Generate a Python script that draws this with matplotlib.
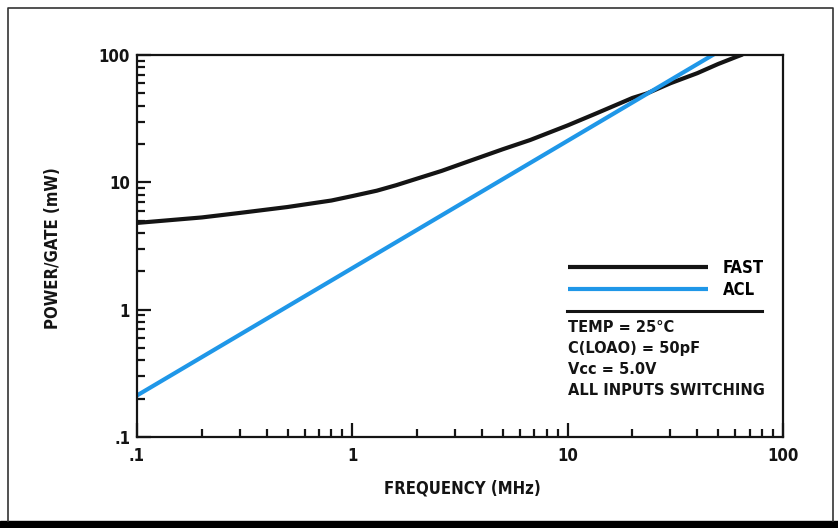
import matplotlib
matplotlib.use('Agg')
import matplotlib.pyplot as plt
from matplotlib.ticker import FixedLocator, FixedFormatter, NullFormatter
from matplotlib.patches import Rectangle
from matplotlib.lines import Line2D

plt.rcParams['font.family'] = ['DejaVu Sans']
plt.rcParams['font.stretch'] = 'condensed'
plt.rcParams['font.weight'] = 'bold'

# Data
fast_freq = [0.1, 0.2, 0.3, 0.5, 0.8, 1, 1.3, 1.6, 2, 2.6, 3.3, 5, 6.7, 10, 13.7, 20, 23.4, 30, 40, 50, 61, 65]
fast_power = [4.8, 5.3, 5.75, 6.4, 7.2, 7.8, 8.6, 9.5, 10.7, 12.3, 14.2, 18.2, 21.5, 28, 35, 46, 50, 60, 72, 85, 97, 101]
acl_freq = [0.1, 1, 10, 100]
acl_power = [0.212, 2.12, 21.2, 212]

major_ticks = [0.1, 1, 10, 100]
major_labels = ['.1', '1', '10', '100']
minor_ticks = [m * d for d in [0.1, 1, 10] for m in range(2, 10)]

notes = ['TEMP = 25°C', 'C(LOAO) = 50pF', 'Vcc = 5.0V', 'ALL INPUTS SWITCHING']

W, H = 838, 528
FS = 12
BLACK = '#141414'
BLUE = '#1f97e8'

fig = plt.figure(figsize=(W / 100, H / 100), dpi=100)
ax = fig.add_axes([137 / W, 1 - 437 / H, (783 - 137) / W, (437 - 55) / H])

ax.plot(fast_freq, fast_power, color=BLACK, lw=3.0, solid_capstyle='butt', label='FAST')
ax.plot(acl_freq, acl_power, color=BLUE, lw=3.0, solid_capstyle='butt', label='ACL')

ax.set_xscale('log')
ax.set_yscale('log')
ax.set_xlim(0.1, 100)
ax.set_ylim(0.1, 100)

for axis in (ax.xaxis, ax.yaxis):
    axis.set_major_locator(FixedLocator(major_ticks))
    axis.set_major_formatter(FixedFormatter(major_labels))
    axis.set_minor_locator(FixedLocator(minor_ticks))
    axis.set_minor_formatter(NullFormatter())

ax.tick_params(which='both', direction='in', width=1.6, colors=BLACK, labelsize=FS)
ax.tick_params(which='major', length=10)
ax.tick_params(which='minor', length=5.5)
ax.tick_params(axis='x', which='major', pad=7)
ax.tick_params(axis='y', which='major', pad=5)
for s in ax.spines.values():
    s.set_linewidth(1.6)
    s.set_color(BLACK)

# legend
leg = ax.legend(loc='upper left', bbox_to_anchor=((568 - 137) / 646, (437 - 259) / 382),
                frameon=False, fontsize=FS, handlelength=8.4, handletextpad=0.9,
                labelspacing=0.25, borderaxespad=0, borderpad=0)
for h in leg.legend_handles:
    h.set_linewidth(3.0)

# separator and test conditions
fig.add_artist(Line2D([567 / W, 762 / W], [1 - 311 / H, 1 - 311 / H], color=BLACK, lw=2.2))
for i, t in enumerate(notes):
    fig.text(568 / W, 1 - (328 + i * 20.7) / H, t, fontsize=11.7, ha='left', va='center', color=BLACK)

fig.text(462 / W, 1 - 488 / H, 'FREQUENCY (MHz)', fontsize=FS, ha='center', va='center', color=BLACK)
fig.text(53 / W, 1 - 248 / H, 'POWER/GATE (mW)', fontsize=FS, rotation=90,
         ha='center', va='center', color=BLACK)

# outer frame and black base strip
fig.add_artist(Line2D([8 / W, 8 / W, 833 / W, 833 / W], [1 - 521 / H, 1 - 7.5 / H, 1 - 7.5 / H, 1 - 521 / H],
                      color='#333333', lw=1.2))
fig.add_artist(Rectangle((0, 0), 1, 7 / H, transform=fig.transFigure, color='black'))

fig.savefig('out.png', dpi=100)
